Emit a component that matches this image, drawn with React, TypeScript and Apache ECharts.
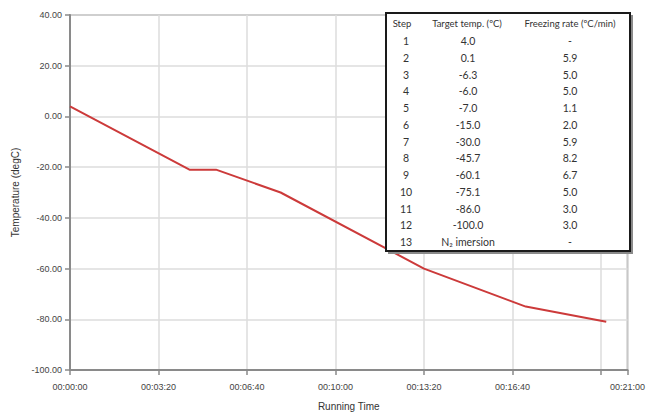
import React, { useEffect, useRef } from "react";
import * as echarts from "echarts";

const timeSec = [0, 270, 330, 476, 800, 1030, 1212];
const tempC = [4, -21, -21, -30, -60, -75, -81];

const tableHeaders = ["Step", "Target temp. (ºC)", "Freezing rate (ºC/min)"];
const steps = ["1", "2", "3", "4", "5", "6", "7", "8", "9", "10", "11", "12", "13"];
const targetTemps = ["4.0", "0.1", "-6.3", "-6.0", "-7.0", "-15.0", "-30.0", "-45.7", "-60.1", "-75.1", "-86.0", "-100.0", "N₂ imersion"];
const freezingRates = ["-", "5.9", "5.0", "5.0", "1.1", "2.0", "5.9", "8.2", "6.7", "5.0", "3.0", "3.0", "-"];

const xMax = 1260;
const xInterval = 200;
const yMin = -100;
const yMax = 40;
const yInterval = 20;

function fmtTime(s: number): string {
  const h = Math.floor(s / 3600);
  const m = Math.floor((s % 3600) / 60);
  const sec = Math.round(s % 60);
  const p = (n: number) => String(n).padStart(2, "0");
  return `${p(h)}:${p(m)}:${p(sec)}`;
}

export default function App() {
  const ref = useRef<HTMLDivElement>(null);
  useEffect(() => {
    if (!ref.current) return;
    const chart = echarts.init(ref.current, null, { renderer: "svg" });
    const font = "Lato, 'Open Sans', sans-serif";
    const tableLeft = 386;
    const tableTop = 13;
    const colX = [406, 468, 570];
    const headerX = [402, 467, 570];
    const textColor = "#333333";
    const graphics: any[] = [
      { type: "rect", shape: { x: tableLeft + 2, y: tableTop + 2, width: 245, height: 239 }, style: { fill: "#8a8a8a" }, z: 100 },
      { type: "rect", shape: { x: tableLeft, y: tableTop, width: 244, height: 238 }, style: { fill: "#ffffff", stroke: "#1a1a1a", lineWidth: 2 }, z: 101 },
    ];
    tableHeaders.forEach((h, i) => {
      graphics.push({
        type: "text", z: 102,
        style: { text: h, x: headerX[i], y: tableTop + 10, align: "center", verticalAlign: "middle", textAlign: "center", textVerticalAlign: "middle", fill: textColor, font: `9.5px ${font}` },
      });
    });
    steps.forEach((s, r) => {
      const y = 41 + r * 16.75;
      const vals = [s, targetTemps[r], freezingRates[r]];
      vals.forEach((v, c) => {
        graphics.push({
          type: "text", z: 102,
          style: { text: v, x: colX[c], y, align: "center", verticalAlign: "middle", textAlign: "center", textVerticalAlign: "middle", fill: textColor, font: `10.5px ${font}` },
        });
      });
    });

    chart.setOption({
      animation: false,
      backgroundColor: "#ffffff",
      grid: { left: 70, right: 18, top: 15, bottom: 40.5, show: true, borderColor: "#8a8a8a", borderWidth: 1.5, backgroundColor: "transparent" },
      xAxis: {
        type: "value",
        min: 0,
        max: xMax,
        interval: xInterval,
        name: "Running Time",
        nameLocation: "middle",
        nameGap: 31,
        nameTextStyle: { fontFamily: "Liberation Sans", fontSize: 10, color: "#333" },
        axisLine: { show: true, onZero: false, lineStyle: { color: "#8a8a8a", width: 2 } },
        axisTick: { show: true, length: 5, lineStyle: { color: "#8a8a8a", width: 1.5 } },
        axisLabel: {
          fontFamily: "Liberation Sans", fontSize: 9, color: "#444", margin: 12,
          showMaxLabel: true,
          formatter: (v: number) => (v === 1200 ? "" : fmtTime(v)),
        },
        splitLine: { show: true, lineStyle: { color: "#dcdcdc", width: 1.5 } },
      },
      yAxis: {
        type: "value",
        min: yMin,
        max: yMax,
        interval: yInterval,
        name: "Temperature (degC)",
        nameLocation: "middle",
        nameGap: 47,
        nameTextStyle: { fontFamily: "Liberation Sans", fontSize: 10, color: "#333" },
        axisLine: { show: true, onZero: false, lineStyle: { color: "#8a8a8a", width: 2 } },
        axisTick: { show: true, length: 5, lineStyle: { color: "#8a8a8a", width: 1.5 } },
        axisLabel: {
          fontFamily: "Liberation Sans", fontSize: 9, color: "#444", margin: 8,
          formatter: (v: number) => v.toFixed(2),
        },
        splitLine: { show: true, lineStyle: { color: "#dcdcdc", width: 1.5 } },
      },
      series: [
        {
          type: "line",
          data: timeSec.map((t, i) => [t, tempC[i]]),
          showSymbol: false,
          lineStyle: { color: "#cc3a3a", width: 2 },
          z: 5,
        },
      ],
      graphic: graphics,
    });
    return () => chart.dispose();
  }, []);
  return <div ref={ref} style={{ width: 648, height: 416, position: "absolute", left: 0, top: 0 }} />;
}
